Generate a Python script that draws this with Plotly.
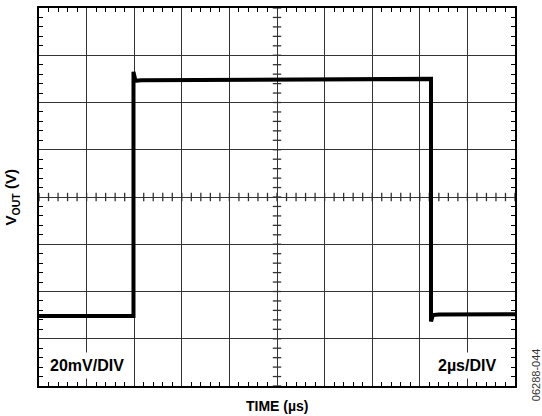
import plotly.graph_objects as go

# Scope trace (time in µs, VOUT in mV above bottom graticule)
time_us = [0.0, 3.97, 3.97, 4.05, 4.3, 10.0, 16.45, 16.47, 16.47, 16.55, 16.8, 20.0]
vout_mv = [29.6, 29.6, 133.0, 129.2, 129.4, 129.7, 130.0, 130.0, 27.3, 30.0, 30.3, 30.4]

# Graticule cross ticks on the centre lines
cross_x = [i * 0.4 for i in range(51)]
cross_y = [i * 4 for i in range(41)]
X_CENTER = 10.0
Y_CENTER = 80.0

x_label = "TIME (µs)"
y_label = "V<sub>OUT</sub> (V)"
left_note = "20mV/DIV"
right_note = "2µs/DIV"
code_note = "06288-044"

FONT = "Liberation Sans, Arial, Helvetica, sans-serif"

fig = go.Figure()

# centre cross ticks
fig.add_trace(go.Scatter(
    x=cross_x, y=[Y_CENTER] * len(cross_x), mode="markers",
    marker=dict(symbol="line-ns", size=6, line=dict(width=1.3, color="#333333")),
    hoverinfo="skip", showlegend=False))
fig.add_trace(go.Scatter(
    x=[X_CENTER] * len(cross_y), y=cross_y, mode="markers",
    marker=dict(symbol="line-ew", size=6, line=dict(width=1.3, color="#333333")),
    hoverinfo="skip", showlegend=False))

fig.add_trace(go.Scatter(
    x=time_us, y=vout_mv, mode="lines",
    line=dict(color="black", width=4),
    hoverinfo="skip", showlegend=False))

axis_common = dict(
    showticklabels=False, showgrid=True, gridcolor="#333333", gridwidth=1.3,
    zeroline=False, showline=True, linecolor="black", linewidth=2,
    mirror="ticks", ticks="",
)

fig.update_xaxes(range=[0, 20], dtick=2, tick0=0,
                 minor=dict(dtick=0.4, tick0=0, ticks="inside", ticklen=4,
                            tickwidth=1.2, tickcolor="black", showgrid=False),
                 **axis_common)
fig.update_yaxes(range=[0, 160], dtick=20, tick0=0,
                 minor=dict(dtick=4, tick0=0, ticks="inside", ticklen=4,
                            tickwidth=1.2, tickcolor="black", showgrid=False),
                 **axis_common)

annos = [
    dict(text=f"<b>{left_note}</b>", x=2.0, y=0.055, xref="x", yref="paper",
         xanchor="center", yanchor="middle", showarrow=False,
         font=dict(size=16, color="black", family=FONT), bgcolor="white", borderpad=4),
    dict(text=f"<b>{right_note}</b>", x=18.0, y=0.055, xref="x", yref="paper",
         xanchor="center", yanchor="middle", showarrow=False,
         font=dict(size=16, color="black", family=FONT), bgcolor="white", borderpad=4),
    dict(text=f"<b>{x_label}</b>", x=0.5, y=-0.052, xref="paper", yref="paper",
         xanchor="center", yanchor="middle", showarrow=False,
         font=dict(size=14, color="black", family=FONT)),
    dict(text=f"<b>{y_label}</b>", x=-0.058, y=0.5, xref="paper", yref="paper",
         xanchor="center", yanchor="middle", showarrow=False, textangle=-90,
         font=dict(size=15, color="black", family=FONT)),
    dict(text=code_note, x=1.043, y=0.03, xref="paper", yref="paper",
         xanchor="center", yanchor="middle", showarrow=False, textangle=-90,
         font=dict(size=11, color="#333333", family=FONT)),
]

fig.update_layout(
    width=542, height=416,
    margin=dict(l=39, r=27, t=6, b=30),
    paper_bgcolor="white", plot_bgcolor="white",
    annotations=annos,
    showlegend=False,
)

fig.write_html(
    "out.html",
    config={"displayModeBar": False},
    post_script="document.body.style.margin='0';document.body.style.overflow='hidden';",
)
